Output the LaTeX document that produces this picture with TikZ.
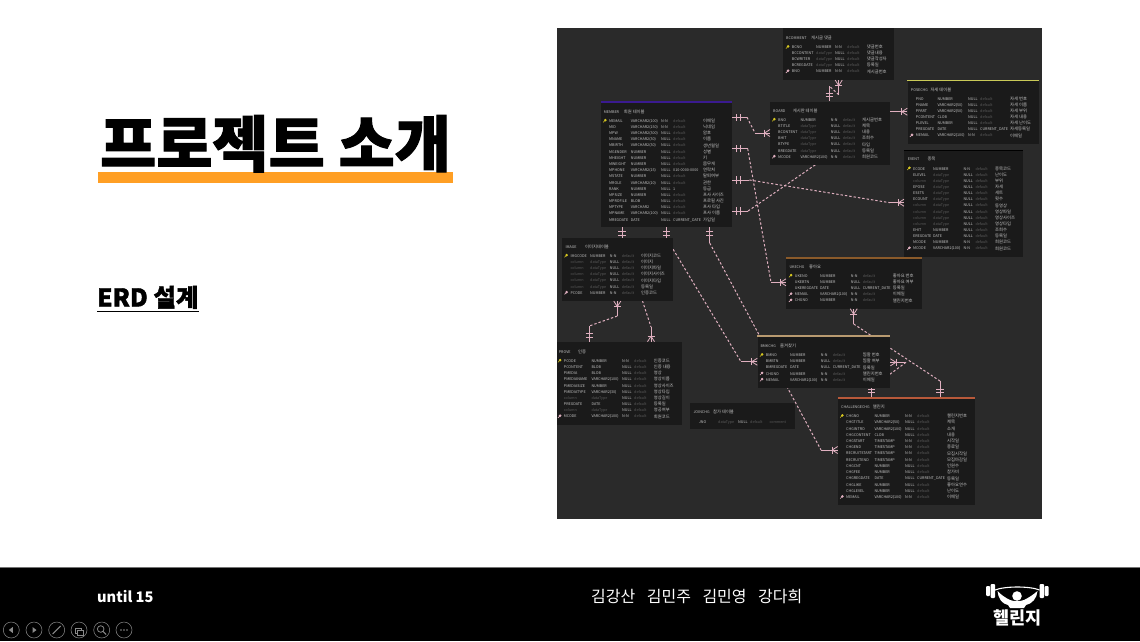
\documentclass[tikz,border=0pt]{standalone}
\usepackage{fontspec}
\usetikzlibrary{calc}
\setmainfont{Noto Sans CJK KR}
\newfontfamily\blackf{Noto Sans CJK KR Black}
\newfontfamily\heavyf[FakeBold=1.6]{Noto Sans CJK KR Black}
\definecolor{erdbg}{HTML}{2A2A2A}
\definecolor{tblbg}{HTML}{1A1A1A}
\definecolor{rowtxt}{HTML}{C4C4C4}
\definecolor{rowdim}{HTML}{5A5A5A}
\definecolor{linkc}{HTML}{E0B0C0}
\definecolor{pkc}{HTML}{D8C820}
\definecolor{orangeb}{HTML}{FF9F24}
\definecolor{iconc}{HTML}{8A8A8A}
\definecolor{barm}{HTML}{3A1A90}
\definecolor{barp}{HTML}{C9C957}
\definecolor{baru}{HTML}{8A5A2A}
\definecolor{barb}{HTML}{B89A70}
\definecolor{barc}{HTML}{B8593A}
\pgfdeclarelayer{linklayer}
\pgfsetlayers{linklayer,main}
\newcommand\dimt{\color{rowdim}}
\newcommand\dt{{\dimt dataType}}
\newcommand\cl{{\dimt column}}
\newcommand\df{{\dimt default}}
\newcounter{nn}
\tikzset{
  x=1pt,y=-1pt,
  tbl/.style={fill=tblbg,draw=none,inner sep=0pt,rectangle,anchor=north west},
  etext/.style={inner sep=0pt,anchor=base west,text=rowtxt,font=\fontsize{3.7}{4}\selectfont},
  ktext/.style={inner sep=0pt,anchor=base west,text=rowtxt,font=\fontsize{4.3}{5}\selectfont},
  lsolid/.style={draw=linkc,line width=1pt},
  ldash/.style={draw=linkc,line width=1pt,dash pattern=on 2.4pt off 2pt},
  navring/.style={draw=iconc,line width=0.5pt,circle,minimum size=16pt,inner sep=0pt},
  navline/.style={draw=iconc,line width=0.8pt},
}
% table: id, x1, y1, x2, y2
\newcommand\etable[5]{%
  \pgfmathsetmacro\tw{#4-#2}\pgfmathsetmacro\th{#5-#3}%
  \node[tbl,minimum width=\tw pt,minimum height=\th pt] (#1) at (#2,#3) {};}
\newcommand\ebar[2]{\fill[#1] (#2.north west) rectangle ($(#2.north east)+(0,1.6)$);}
% title: x1 x2 y name korean
\newcommand\etitle[5]{%
  \stepcounter{nn}\node[etext] (t\thenn) at (#1,#3+1.4) {#4};%
  \stepcounter{nn}\node[ktext] (t\thenn) at (#2,#3+1.4) {#5};}
% columns: name type null default comment, first y, step
\newcommand\cols[7]{\def\cA{#1}\def\cB{#2}\def\cC{#3}\def\cD{#4}\def\cE{#5}\def\ry{#6}\def\rs{#7}}
\newcommand\ecell[2]{\stepcounter{nn}\node[etext] (t\thenn) at (#1,\ry+1.3) {#2};}
\newcommand\kcell[2]{\stepcounter{nn}\node[ktext] (t\thenn) at (#1,\ry+1.4) {#2};}
\newcommand\ekey[1]{%
  \pgfmathsetmacro\kx{\cA-3.6}%
  \draw[#1,line width=0.7pt,fill=#1] (\kx,\ry-0.9) circle (0.9);
  \draw[#1,line width=0.6pt] (\kx,\ry-0.9) -- (\kx-2.2,\ry+1.3);}
\newcommand\erow[6]{%
  \ifx p#1\ekey{pkc}\fi\ifx f#1\ekey{linkc}\fi
  \ecell{\cA}{#2}\ecell{\cB}{#3}\ecell{\cC}{#4}\ecell{\cD}{#5}\kcell{\cE}{#6}%
  \pgfmathsetmacro\ry{\ry+\rs}}
% connector ends: coordinate, direction dx dy (pointing away from the table)
\newcommand\crow[3]{%
  \draw[lsolid,line width=0.8pt] ($(#1)+({#2*5.5},{#3*5.5})$) -- ($(#1)+({#3*3.5},{#2*3.5})$);
  \draw[lsolid,line width=0.8pt] ($(#1)+({#2*5.5},{#3*5.5})$) -- ($(#1)+({-#3*3.5},{-#2*3.5})$);
  \draw[lsolid,line width=0.8pt] ($(#1)+({#2*5.5+#3*3.5},{#3*5.5+#2*3.5})$) -- ($(#1)+({#2*5.5-#3*3.5},{#3*5.5-#2*3.5})$);}
\newcommand\ticks[3]{%
  \draw[lsolid] ($(#1)+({#2*4.5+#3*3.6},{#3*4.5+#2*3.6})$) -- ($(#1)+({#2*4.5-#3*3.6},{#3*4.5-#2*3.6})$);
  \draw[lsolid] ($(#1)+({#2*8+#3*3.6},{#3*8+#2*3.6})$) -- ($(#1)+({#2*8-#3*3.6},{#3*8-#2*3.6})$);}
% link: start, bend1, bend2, end
\newcommand\elink[4]{\draw[lsolid] (#1) -- (#2);\draw[ldash] (#2) -- (#3);\draw[lsolid] (#3) -- (#4);}
\begin{document}
\begin{tikzpicture}
\useasboundingbox (0,0) rectangle (1140,641);
\begin{pgfonlayer}{linklayer}
\fill[white] (0,0) rectangle (1140,641);
\fill[erdbg] (557,28) rectangle (1042,519);
\end{pgfonlayer}
% ---- left titles
\fill[orangeb] (98.3,172) rectangle (452.7,182.7);
\node[inner sep=0pt,anchor=base west,font=\heavyf\fontsize{61}{61}\selectfont] (maintitle) at (100,166.5) {프로젝트 소개};
\node[inner sep=0pt,anchor=base west,font=\heavyf\fontsize{24.5}{25}\selectfont] (subtitle) at (97,306.5) {ERD 설계};
\draw[black,line width=0.9pt] (subtitle.base west |- 0,311) -- (subtitle.base east |- 0,311);
% ---- tables
\etable{member}{600.7}{101.3}{731.7}{227}
\ebar{barm}{member}
\etitle{603.7}{623.7}{111.7}{MEMBER}{회원 테이블}
\cols{609}{630.7}{661}{673}{703}{121}{6.17}
\erow{p}{MEMAIL}{VARCHAR2(100)}{N-N}{\df}{이메일}
\erow{}{MID}{VARCHAR2(150)}{N-N}{\df}{닉네임}
\erow{}{MPW}{VARCHAR2(300)}{NULL}{\df}{암호}
\erow{}{MNAME}{VARCHAR2(30)}{NULL}{\df}{이름}
\erow{}{MBIRTH}{VARCHAR2(30)}{NULL}{\df}{생년월일}
\erow{}{MGENDER}{NUMBER}{NULL}{\df}{성별}
\erow{}{MHEIGHT}{NUMBER}{NULL}{\df}{키}
\erow{}{MWEIGHT}{NUMBER}{NULL}{\df}{몸무게}
\erow{}{MPHONE}{VARCHAR2(15)}{NULL}{010-0000-0000}{연락처}
\erow{}{MSTATE}{NUMBER}{NULL}{\df}{탈퇴여부}
\erow{}{MROLE}{VARCHAR2(10)}{NULL}{\df}{권한}
\erow{}{RANK}{NUMBER}{NULL}{1}{등급}
\erow{}{MPSIZE}{NUMBER}{NULL}{\df}{프사 사이즈}
\erow{}{MPROFILE}{BLOB}{NULL}{\df}{프로필 사진}
\erow{}{MPTYPE}{VARCHAR2}{NULL}{\df}{프사 타입}
\erow{}{MPNAME}{VARCHAR2(100)}{NULL}{\df}{프사 이름}
\erow{}{MREGDATE}{DATE}{NULL}{CURRENT\_DATE}{가입일}
\etable{bcomment}{783}{28}{894}{79.7}
\etitle{786}{811}{38}{BCOMMENT}{게시글 댓글}
\cols{791.7}{816}{835}{847}{866.7}{47.3}{6.08}
\erow{p}{BCNO}{NUMBER}{N-N}{\df}{댓글번호}
\erow{}{BCCONTENT}{\dt}{NULL}{\df}{댓글내용}
\erow{}{BCWRITER}{\dt}{NULL}{\df}{댓글작성자}
\erow{}{BCREGDATE}{\dt}{NULL}{\df}{등록일}
\erow{f}{BNO}{NUMBER}{N-N}{\df}{게시글번호}
\etable{board}{770}{101.3}{889.7}{164.7}
\etitle{773}{792.7}{111}{BOARD}{게시판 테이블}
\cols{778}{800.3}{830.7}{842.7}{862}{120}{6.17}
\erow{p}{BNO}{NUMBER}{N-N}{\df}{게시글번호}
\erow{}{BTITLE}{\dt}{NULL}{\df}{제목}
\erow{}{BCONTENT}{\dt}{NULL}{\df}{내용}
\erow{}{BHIT}{\dt}{NULL}{\df}{조회수}
\erow{}{BTYPE}{\dt}{NULL}{\df}{타입}
\erow{}{BREGDATE}{\dt}{NULL}{\df}{등록일}
\erow{f}{MCODE}{VARCHAR2(100)}{N-N}{\df}{회원코드}
\etable{posechg}{907.3}{79.7}{1038.7}{143.7}
\ebar{barp}{posechg}
\etitle{910.7}{930.3}{90}{POSECHG}{자세 테이블}
\cols{915.7}{937.3}{968}{980}{1010}{99}{6.11}
\erow{}{PNO}{NUMBER}{NULL}{\df}{자세 번호}
\erow{}{PNAME}{VARCHAR2(50)}{NULL}{\df}{자세 이름}
\erow{}{PPART}{VARCHAR2(50)}{NULL}{\df}{자세 부위}
\erow{}{PCONTENT}{CLOB}{NULL}{\df}{자세 내용}
\erow{}{PLEVEL}{NUMBER}{NULL}{\df}{자세 난이도}
\erow{}{PREGDATE}{DATE}{NULL}{CURRENT\_DATE}{자세등록일}
\erow{f}{MEMAIL}{VARCHAR2(100)}{N-N}{\df}{이메일}
\etable{event}{904}{149.7}{1022.3}{256.3}
\ebar{black}{event}
\etitle{907.7}{927.3}{159.3}{EVENT}{종목}
\cols{913}{933}{963.3}{975.3}{995}{168.7}{6.15}
\erow{p}{ECODE}{NUMBER}{N-N}{\df}{종목코드}
\erow{}{ELEVEL}{\dt}{NULL}{\df}{난이도}
\erow{}{\cl}{\dt}{NULL}{\df}{부위}
\erow{}{EPOSE}{\dt}{NULL}{\df}{자세}
\erow{}{ESETS}{\dt}{NULL}{\df}{세트}
\erow{}{ECOUNT}{\dt}{NULL}{\df}{횟수}
\erow{}{\cl}{\dt}{NULL}{\df}{동영상}
\erow{}{\cl}{\dt}{NULL}{\df}{영상파일}
\erow{}{\cl}{\dt}{NULL}{\df}{영상사이즈}
\erow{}{\cl}{\dt}{NULL}{\df}{영상타입}
\erow{}{EHIT}{NUMBER}{NULL}{\df}{조회수}
\erow{}{EREGDATE}{DATE}{NULL}{\df}{등록일}
\erow{}{MCODE}{NUMBER}{N-N}{\df}{회원코드}
\erow{f}{MCODE}{VARCHAR2(100)}{N-N}{\df}{회원코드}
\etable{image}{562}{237.3}{672.7}{300.7}
\etitle{565.3}{585}{246.7}{IMAGE}{이미지테이블}
\cols{570.3}{590}{609.7}{621.7}{641}{256}{6.17}
\erow{p}{IMGCODE}{NUMBER}{N-N}{\df}{이미지코드}
\erow{}{\cl}{\dt}{NULL}{\df}{이미지}
\erow{}{\cl}{\dt}{NULL}{\df}{이미지파일}
\erow{}{\cl}{\dt}{NULL}{\df}{이미지사이즈}
\erow{}{\cl}{\dt}{NULL}{\df}{이미지타입}
\erow{}{\cl}{\dt}{NULL}{\df}{등록일}
\erow{f}{PCODE}{NUMBER}{N-N}{\df}{인증코드}
\etable{prove}{556.5}{341.7}{681.7}{424.3}
\etitle{558.7}{578}{352}{PROVE}{인증}
\cols{563.7}{591.3}{622}{634}{653.7}{361}{6.18}
\erow{p}{PCODE}{NUMBER}{N-N}{\df}{인증코드}
\erow{}{PCONTENT}{BLOB}{NULL}{\df}{인증 내용}
\erow{}{PMEDIA}{BLOB}{NULL}{\df}{영상}
\erow{}{PMEDIANAME}{VARCHAR2(100)}{NULL}{\df}{영상이름}
\erow{}{PMEDIASIZE}{NUMBER}{NULL}{\df}{영상사이즈}
\erow{}{PMEDIATYPE}{VARCHAR2(30)}{NULL}{\df}{영상타입}
\erow{}{\cl}{\dt}{NULL}{\df}{영상길이}
\erow{}{PREGDATE}{DATE}{NULL}{\df}{등록일}
\erow{}{\cl}{\dt}{NULL}{\df}{영공여부}
\erow{f}{MCODE}{VARCHAR2(100)}{N-N}{\df}{회원코드}
\etable{joinchg}{690}{402.3}{795}{429}
\etitle{693.3}{713}{412.3}{JOINCHG}{참가 테이블}
\cols{698.7}{718}{738}{750}{769.3}{421.7}{6.17}
\erow{}{JNO}{\dt}{NULL}{\df}{{\dimt\fontsize{3.7}{4}\selectfont comment}}
\etable{ukechg}{786}{257.3}{921.7}{308.3}
\ebar{baru}{ukechg}
\etitle{789.3}{809}{267.3}{UKECHG}{좋아요}
\cols{794.7}{820}{850.7}{862.7}{892.7}{276}{6.17}
\erow{p}{UKENO}{NUMBER}{N-N}{\df}{좋아요 번호}
\erow{}{UKEBTN}{NUMBER}{NULL}{\df}{좋아요 여부}
\erow{}{UKEREGDATE}{DATE}{NULL}{CURRENT\_DATE}{등록일}
\erow{f}{MEMAIL}{VARCHAR2(100)}{N-N}{\df}{이메일}
\erow{f}{CHGNO}{NUMBER}{N-N}{\df}{챌린지번호}
\etable{bmkchg}{757.3}{335.3}{890}{387.7}
\ebar{barb}{bmkchg}
\etitle{760.3}{780}{346.3}{BMKCHG}{즐겨찾기}
\cols{765.7}{790}{820.7}{832.7}{862.7}{355.3}{6.17}
\erow{p}{BMNO}{NUMBER}{N-N}{\df}{찜할 번호}
\erow{}{BMBTN}{NUMBER}{NULL}{\df}{찜할 여부}
\erow{}{BMREGDATE}{DATE}{NULL}{CURRENT\_DATE}{등록일}
\erow{f}{CHGNO}{NUMBER}{N-N}{\df}{챌린지번호}
\erow{f}{MEMAIL}{VARCHAR2(100)}{N-N}{\df}{이메일}
\etable{challenge}{837.7}{397}{975}{505}
\ebar{barc}{challenge}
\etitle{841}{872.7}{407.3}{CHALLENGECHG}{챌린지}
\cols{846}{874.3}{905}{917}{947}{416.3}{6.23}
\erow{p}{CHGNO}{NUMBER}{N-N}{\df}{챌린지번호}
\erow{}{CHGTITLE}{VARCHAR2(50)}{NULL}{\df}{제목}
\erow{}{CHGINTRO}{VARCHAR2(100)}{NULL}{\df}{소개}
\erow{}{CHGCONTENT}{CLOB}{NULL}{\df}{내용}
\erow{}{CHGSTART}{TIMESTAMP}{N-N}{\df}{시작일}
\erow{}{CHGEND}{TIMESTAMP}{N-N}{\df}{종료일}
\erow{}{RECRUITSTART}{TIMESTAMP}{N-N}{\df}{모집시작일}
\erow{}{RECRUITEND}{TIMESTAMP}{N-N}{\df}{모집마감일}
\erow{}{CHGCNT}{NUMBER}{NULL}{\df}{인원수}
\erow{}{CHGFEE}{NUMBER}{NULL}{\df}{참가비}
\erow{}{CHGREGDATE}{DATE}{NULL}{CURRENT\_DATE}{등록일}
\erow{}{CHGLIKE}{NUMBER}{NULL}{\df}{좋아요연수}
\erow{}{CHGLEVEL}{NUMBER}{NULL}{\df}{난이도}
\erow{f}{MEMAIL}{VARCHAR2(100)}{N-N}{\df}{이메일}
% ---- connectors, under the tables
\coordinate (ma) at (member.east |- 0,117.3); \coordinate (maa) at (747,117.3); \coordinate (mab) at (755,133); \coordinate (ba) at (board.west |- 0,133);
\coordinate (mb) at (member.east |- 0,148.7); \coordinate (mba) at (747.7,148.7); \coordinate (mbb) at (771,282.3); \coordinate (ub) at (ukechg.west |- 0,282.3);
\coordinate (mc) at (member.east |- 0,180); \coordinate (mca) at (749.3,180); \coordinate (mcb) at (890,202.7); \coordinate (ec) at (event.west |- 0,202.7);
\coordinate (md) at (member.east |- 0,211); \coordinate (mda) at (748,211); \coordinate (mdb) at (818,163); \coordinate (bd) at (board.south -| 818,0);
\coordinate (me) at (member.south -| 622,0); \coordinate (mea) at (622,238); \coordinate (meb) at (651,327); \coordinate (pe) at (prove.north -| 651,0);
\coordinate (mf) at (member.south -| 666.3,0); \coordinate (mfa) at (666.3,238); \coordinate (mfb) at (741,361.7); \coordinate (bf) at (bmkchg.west |- 0,361.7);
\coordinate (mg) at (member.south -| 709.7,0); \coordinate (mga) at (709.7,243); \coordinate (mgb) at (821,450); \coordinate (cg) at (challenge.west |- 0,450);
\coordinate (bca) at (bcomment.south -| 838.7,0); \coordinate (bcb) at (838.7,94.7); \coordinate (bcc) at (829.3,86); \coordinate (boa) at (board.north -| 829.3,0);
\coordinate (boe) at (board.east |- 0,111.7); \coordinate (poe) at (posechg.west |- 0,111.7);
\coordinate (ima) at (image.south -| 617.3,0); \coordinate (imb) at (617.3,316); \coordinate (imc) at (589.3,326); \coordinate (pra) at (prove.north -| 589.3,0);
\coordinate (uka) at (ukechg.south -| 853.7,0); \coordinate (ukb) at (853.7,324); \coordinate (ukc) at (940,381); \coordinate (cha) at (challenge.north -| 940,0);
\coordinate (bkr) at (bmkchg.east |- 0,362.3); \coordinate (bkb) at (906,362.3); \coordinate (chc) at (871.7,387.7); \coordinate (chd) at (challenge.north -| 871.7,0);
\begin{pgfonlayer}{linklayer}
\elink{ma}{maa}{mab}{ba}
\elink{mb}{mba}{mbb}{ub}
\elink{mc}{mca}{mcb}{ec}
\elink{md}{mda}{mdb}{bd}
\elink{me}{mea}{meb}{pe}
\elink{mf}{mfa}{mfb}{bf}
\elink{mg}{mga}{mgb}{cg}
\elink{bca}{bcb}{bcc}{boa}
\draw[lsolid] (boe) -- (poe);
\elink{ima}{imb}{imc}{pra}
\elink{uka}{ukb}{ukc}{cha}
\elink{bkr}{bkb}{chc}{chd}
\end{pgfonlayer}
% ---- connector ends
\ticks{ma}{1}{0}\ticks{mb}{1}{0}\ticks{mc}{1}{0}\ticks{md}{1}{0}
\ticks{me}{0}{1}\ticks{mf}{0}{1}\ticks{mg}{0}{1}
\crow{ba}{-1}{0}\crow{ub}{-1}{0}\crow{ec}{-1}{0}\crow{pe}{0}{-1}\crow{bf}{-1}{0}\crow{cg}{-1}{0}
\crow{bca}{0}{1}\ticks{boa}{0}{-1}\crow{poe}{-1}{0}
\crow{ima}{0}{1}\ticks{pra}{0}{-1}
\crow{uka}{0}{1}\ticks{cha}{0}{-1}
\crow{bkr}{1}{0}\ticks{chd}{0}{-1}
% ---- footer
\fill[black] (0,568) rectangle (1140,641);
\draw[black!55,line width=0.8pt] (0,567.6) -- (1140,567.6);
\node[inner sep=0pt,anchor=base west,text=white,font=\blackf\fontsize{14.6}{18}\selectfont] (until) at (97,602.5) {until 15};
\node[inner sep=0pt,anchor=base west,text=white,font=\fontsize{16}{18}\selectfont] (names) at (591,602.5) {김강산\hspace{11.5pt}김민주\hspace{11.5pt}김민영\hspace{11.5pt}강다희};
% nav icons
\node[navring] (n1) at (11.3,630) {};
\node[navring] (n2) at (34,630) {};
\node[navring] (n3) at (56.7,630) {};
\node[navring] (n4) at (79,630) {};
\node[navring] (n5) at (101.7,630) {};
\node[navring] (n6) at (124,630) {};
\fill[iconc] ($(n1)+(-2.5,0)$) -- ($(n1)+(1.5,-3)$) -- ($(n1)+(1.5,3)$) -- cycle;
\fill[iconc] ($(n2)+(2.5,0)$) -- ($(n2)+(-1.5,-3)$) -- ($(n2)+(-1.5,3)$) -- cycle;
\draw[navline,line width=1.1pt] ($(n3)+(-4,4)$) -- ($(n3)+(4,-4)$);
\draw[navline] ($(n4)+(-4,-2)$) rectangle ($(n4)+(2,3)$);
\draw[navline,fill=black] ($(n4)+(-2,0)$) rectangle ($(n4)+(4,5)$);
\draw[navline] ($(n5)+(-1,-1)$) circle (3.3);
\draw[navline,line width=1.1pt] ($(n5)+(1.5,1.5)$) -- ($(n5)+(4.5,4.5)$);
\fill[iconc] ($(n6)+(-3,0)$) circle (0.8) ($(n6)$) circle (0.8) ($(n6)+(3,0)$) circle (0.8);
% logo
\fill[white,rounded corners=1pt] (986,586) rectangle (990,596);
\fill[white,rounded corners=1pt] (990.5,584) rectangle (995,598);
\fill[white,rounded corners=1pt] (1039.5,584) rectangle (1044,598);
\fill[white,rounded corners=1pt] (1044.5,586) rectangle (1048.5,596);
\draw[white,line width=1.1pt] (995,590) .. controls (1005,586) and (1030,586) .. (1039.5,590);
\fill[white] (1017,596) circle (4.8);
\fill[white] (997.5,591) .. controls (1001,595) and (1006,598) .. (1010,600) .. controls (1014,601.5) and (1020,601.5) .. (1024,600) .. controls (1028,598) and (1033,595) .. (1037.5,591) .. controls (1037,598) and (1032,604) .. (1026,605) -- (1024,608) -- (1010,608) -- (1008,605) .. controls (1002,604) and (998,598) .. (997.5,591) -- cycle;
\node[inner sep=0pt,anchor=base,text=white,font=\blackf\fontsize{17.5}{18}\selectfont] (logotxt) at (1017.5,624) {헬린지};
\end{tikzpicture}
\end{document}
